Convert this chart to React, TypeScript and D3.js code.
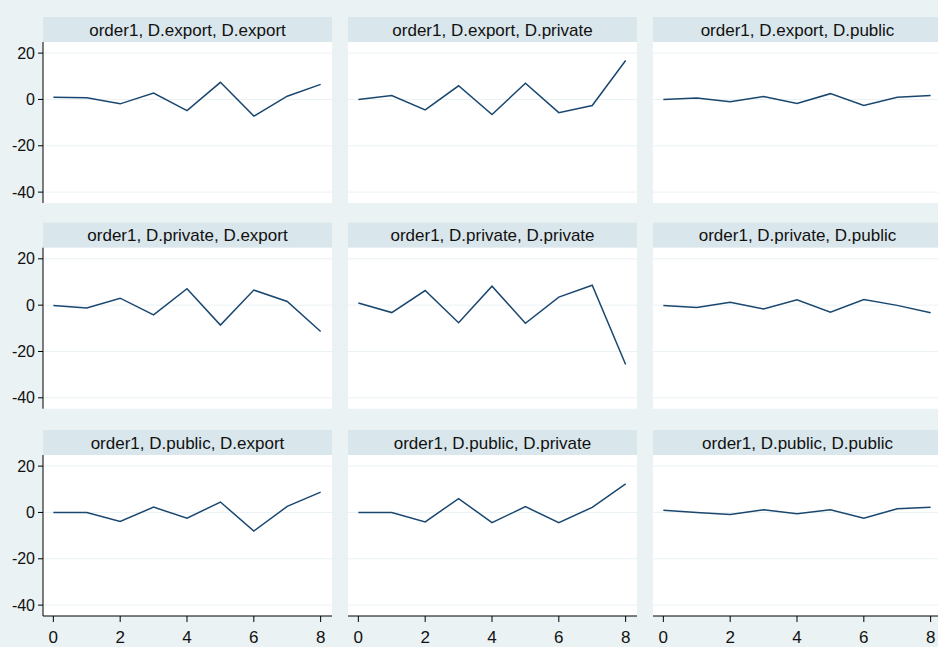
import React from "react";
import * as d3 from "d3";

const steps = [0, 1, 2, 3, 4, 5, 6, 7, 8];
const panelTitles = [
  "order1, D.export, D.export",
  "order1, D.export, D.private",
  "order1, D.export, D.public",
  "order1, D.private, D.export",
  "order1, D.private, D.private",
  "order1, D.private, D.public",
  "order1, D.public, D.export",
  "order1, D.public, D.private",
  "order1, D.public, D.public",
];
const exportExport = [1.0, 0.7, -1.9, 2.8, -4.8, 7.4, -7.2, 1.4, 6.5];
const exportPrivate = [0.0, 1.7, -4.5, 5.9, -6.5, 7.0, -5.7, -2.6, 16.8];
const exportPublic = [0.0, 0.6, -1.0, 1.3, -1.7, 2.5, -2.6, 0.9, 1.7];
const privateExport = [-0.1, -1.2, 3.0, -4.2, 7.1, -8.6, 6.5, 1.6, -11.4];
const privatePrivate = [0.9, -3.2, 6.3, -7.6, 8.2, -7.8, 3.5, 8.6, -25.6];
const privatePublic = [-0.1, -1.0, 1.2, -1.7, 2.3, -3.0, 2.4, -0.1, -3.3];
const publicExport = [0.0, 0.0, -3.9, 2.3, -2.5, 4.5, -8.0, 2.6, 8.8];
const publicPrivate = [0.0, 0.0, -4.1, 6.0, -4.4, 2.5, -4.4, 2.2, 12.3];
const publicPublic = [1.0, 0.0, -0.9, 1.2, -0.6, 1.2, -2.5, 1.6, 2.2];
const seriesList = [
  exportExport, exportPrivate, exportPublic,
  privateExport, privatePrivate, privatePublic,
  publicExport, publicPrivate, publicPublic,
];
const yTicks = [20, 0, -20, -40];
const xTicks = [0, 2, 4, 6, 8];

const W = 938;
const H = 647;
const colLefts = [43, 348, 653];
const rowTops = [17, 222.7, 430];
const panelW = 289;
const stripH = 25;
const plotH = 161;

const BG = "#eaf2f3";
const STRIP = "#d9e6eb";
const GRID = "#eaf2f3";
const LINE = "#1a476f";
const FONT = "'Liberation Sans', Arial, sans-serif";

export default function App() {
  const x = d3.scaleLinear().domain([-0.31, 8.34]).range([0, panelW]);
  const y = d3.scaleLinear().domain([-44.7, 24.8]).range([plotH, 0]);
  const line = d3
    .line<number>()
    .x((_, i) => x(steps[i]))
    .y((d) => y(d));

  return (
    <svg
      width={W}
      height={H}
      style={{ position: "absolute", left: 0, top: 0, display: "block" }}
    >
      <rect x={0} y={0} width={W} height={H} fill={BG} />
      {seriesList.map((vals, k) => {
        const r = Math.floor(k / 3);
        const c = k % 3;
        const left = colLefts[c];
        const top = rowTops[r];
        const plotTop = top + stripH;
        return (
          <g key={k}>
            <rect x={left} y={top} width={panelW} height={stripH} fill={STRIP} />
            <text
              x={left + panelW / 2}
              y={top + stripH / 2 + 6}
              textAnchor="middle"
              fontFamily={FONT}
              fontSize={17}
              fill="#111"
            >
              {panelTitles[k]}
            </text>
            <g transform={`translate(${left},${plotTop})`}>
              <rect x={0} y={0} width={panelW} height={plotH} fill="#ffffff" />
              {yTicks.map((t) => (
                <line
                  key={t}
                  x1={0}
                  x2={panelW}
                  y1={y(t)}
                  y2={y(t)}
                  stroke={GRID}
                  strokeWidth={1}
                />
              ))}
              <path
                d={line(vals) || ""}
                fill="none"
                stroke={LINE}
                strokeWidth={1.5}
                strokeLinejoin="miter"
              />
              {c === 0 && (
                <g>
                  <line x1={0} x2={0} y1={0} y2={plotH} stroke="#000" strokeWidth={1} />
                  {yTicks.map((t) => (
                    <g key={t} transform={`translate(0,${y(t)})`}>
                      <line x1={-5} x2={0} y1={0} y2={0} stroke="#000" />
                      <text
                        x={-8}
                        y={5.5}
                        textAnchor="end"
                        fontFamily={FONT}
                        fontSize={16}
                        fill="#111"
                      >
                        {t}
                      </text>
                    </g>
                  ))}
                </g>
              )}
              {r === 2 && (
                <g transform={`translate(0,${plotH})`}>
                  <line x1={0} x2={panelW} y1={0} y2={0} stroke="#000" strokeWidth={1} />
                  {xTicks.map((t) => (
                    <g key={t} transform={`translate(${x(t)},0)`}>
                      <line x1={0} x2={0} y1={0} y2={6} stroke="#000" />
                      <text
                        x={0}
                        y={27}
                        textAnchor="middle"
                        fontFamily={FONT}
                        fontSize={17}
                        fill="#111"
                      >
                        {t}
                      </text>
                    </g>
                  ))}
                </g>
              )}
            </g>
          </g>
        );
      })}
    </svg>
  );
}
